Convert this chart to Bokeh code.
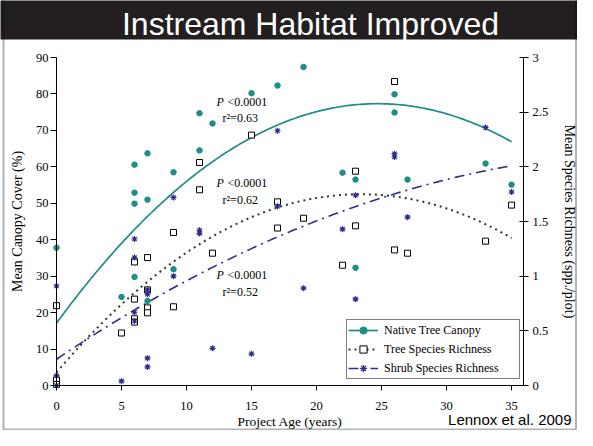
import numpy as np
from bokeh.plotting import figure
from bokeh.models import (Range1d, LinearAxis, FixedTicker, CustomJSTickFormatter,
                          Label, BoxAnnotation, Legend, LegendItem)
from bokeh.embed import file_html
from bokeh.resources import INLINE

# ---------------- data ----------------
x_ticks = [0, 5, 10, 15, 20, 25, 30, 35]
left_ticks = [0, 10, 20, 30, 40, 50, 60, 70, 80, 90]
right_ticks = [0, 0.5, 1, 1.5, 2, 2.5, 3]

canopy_x = [0, 5, 6, 6, 6, 6, 7, 7, 7, 9, 9, 11, 11, 12, 15, 17, 19, 22, 23, 23, 26, 26, 27, 33, 35]
canopy_y = [37.8, 24.3, 60.6, 52.9, 49.9, 29.8, 63.7, 51.0, 23.2, 58.5, 31.9, 74.7, 64.5, 71.9,
            80.2, 82.3, 87.4, 58.4, 56.5, 32.3, 79.9, 74.9, 56.5, 60.9, 55.1]

tree_x = [0, 0, 0, 5, 6, 6, 6, 6, 7, 7, 7, 7, 9, 9, 11, 11, 12, 15, 17, 17, 19, 22, 23, 23, 26, 26, 27, 33, 35]
tree_y = [0.73, 0.05, 0.01, 0.48, 1.13, 0.79, 0.61, 0.58, 1.17, 0.875, 0.71, 0.665, 1.40, 0.72,
          2.04, 1.79, 1.21, 2.29, 1.68, 1.44, 1.53, 1.10, 1.96, 1.46, 2.78, 1.24, 1.21, 1.32, 1.65]

shrub_x = [0, 0, 0, 5, 6, 6, 6, 6, 7, 7, 7, 7, 9, 9, 11, 11, 12, 15, 17, 17, 19, 22, 23, 23, 26, 26, 27, 33, 35]
shrub_y = [0.91, 0.09, 0.0, 0.04, 1.34, 1.17, 0.67, 0.59, 0.875, 0.835, 0.25, 0.17, 1.72, 1.00,
           1.42, 1.39, 0.34, 0.29, 2.33, 1.64, 0.89, 1.43, 1.74, 0.79, 2.12, 2.09, 1.54, 2.36, 1.77]

# quadratic trendline coefficients (a + b*x + c*x^2)
canopy_fit = [17.1, 4.876, -0.0987]
tree_fit = [0.12, 0.1393, -0.002977]
shrub_fit = [0.24, 0.0802, -0.000847]
fit_span = [0, 35]

p_texts = ["<0.0001", "<0.0001", "<0.0001"]
r2_texts = ["r\u00b2=0.63", "r\u00b2=0.62", "r\u00b2=0.52"]
labels = ["Native Tree Canopy", "Tree Species Richness", "Shrub Species Richness"]
title_text = "Instream Habitat Improved"
credit_text = "Lennox et al. 2009"

x_axis_end = 35.92
left_max = 90
right_max = 3

# ---------------- layout / styling ----------------
TEAL = "#1f8c86"
DARK = "#2c3a2c"
NAVY = "#2e2e8e"
BAR = "#231f20"
SERIF = "Liberation Serif"
SANS = "Liberation Sans"
W, H = 577, 430
# frame of the axes in canvas pixels (left, right, top, bottom)
FL, FR, FT, FB = 56, 523, 57, 385
xs = (FR - FL) / x_axis_end          # px per year
ysl = (FB - FT) / left_max           # px per % cover
ysr = (FB - FT) / right_max          # px per species

p = figure(width=W, height=H, output_backend="svg", toolbar_location=None,
           x_range=Range1d(-FL / xs, (W - FL) / xs),
           y_range=Range1d(-(H - FB) / ysl, FB / ysl),
           min_border=0, outline_line_color=None,
           background_fill_color="white", border_fill_color="white")
p.extra_y_ranges = {"rich": Range1d(-(H - FB) / ysr, FB / ysr)}
p.xgrid.visible = False
p.ygrid.visible = False

def style_axis(ax):
    ax.axis_line_color = "black"
    ax.major_tick_line_color = "black"
    ax.minor_tick_line_color = None
    ax.major_label_text_font = SERIF
    ax.major_label_text_font_size = "12.5px"
    ax.major_label_text_color = "black"
    ax.axis_label_text_font = SERIF
    ax.axis_label_text_font_style = "normal"
    ax.axis_label_text_font_size = "14px"
    ax.axis_label_text_color = "black"

xa = p.xaxis[0]
style_axis(xa)
xa.fixed_location = 0
xa.bounds = (0, x_axis_end)
xa.ticker = FixedTicker(ticks=x_ticks)
xa.major_tick_out = 5
xa.major_tick_in = 0
xa.major_label_standoff = 11
xa.axis_label = "Project Age (years)"
xa.axis_label_standoff = 1
xa.axis_label_text_font_size = "13.5px"

ya = p.yaxis[0]
style_axis(ya)
ya.fixed_location = 0
ya.bounds = (0, left_max)
ya.ticker = FixedTicker(ticks=left_ticks)
ya.major_tick_out = 6
ya.major_tick_in = 0
ya.major_label_standoff = 2
ya.axis_label = "Mean Canopy Cover (%)"
ya.axis_label_standoff = 8

ra = LinearAxis(y_range_name="rich", fixed_location=x_axis_end, bounds=(0, right_max),
                ticker=FixedTicker(ticks=right_ticks),
                formatter=CustomJSTickFormatter(code="return tick.toString()"))
style_axis(ra)
ra.major_tick_out = 5
ra.major_tick_in = 4
ra.major_label_standoff = 4
ra.axis_label = "Mean Species Richness (spp./plot)"
ra.axis_label_standoff = 11
p.add_layout(ra, "right")

fx = np.linspace(fit_span[0], fit_span[1], 200)
def quad(c):
    return c[0] + c[1] * fx + c[2] * fx ** 2

l1 = p.line(fx, quad(canopy_fit), line_color=TEAL, line_width=1.7)
l2 = p.line(fx, quad(tree_fit), line_color=DARK, line_width=2, line_dash="2 4", y_range_name="rich")
l3 = p.line(fx, quad(shrub_fit), line_color=NAVY, line_width=1.6, line_dash="10 5 2 5", y_range_name="rich")

s2 = p.scatter(tree_x, tree_y, marker="square", size=6, fill_color="white", line_color="black",
               line_width=1, y_range_name="rich")
s3 = p.scatter(shrub_x, shrub_y, marker="asterisk", size=6, line_color=NAVY, line_width=1.2,
               y_range_name="rich")
s1 = p.scatter(canopy_x, canopy_y, marker="circle", size=5.5, fill_color=TEAL, line_color=TEAL)

legend = Legend(items=[LegendItem(label=labels[0], renderers=[l1, s1]),
                       LegendItem(label=labels[1], renderers=[l2, s2]),
                       LegendItem(label=labels[2], renderers=[l3, s3])],
                location=(346, H - 379), padding=1, spacing=1, margin=0,
                glyph_width=30, glyph_height=18, label_height=18, label_standoff=6,
                label_width=134, border_line_color="black", border_line_width=1,
                background_fill_color="white", background_fill_alpha=1,
                label_text_font=SERIF, label_text_font_size="12px", label_text_color="black")
p.add_layout(legend)

# regression annotations (data coordinates)
p_rows = [77.9, 55.5, 30.2]
r_rows = [73.4, 51.0, 25.6]
for yp, yr, pt, rt in zip(p_rows, r_rows, p_texts, r2_texts):
    p.add_layout(Label(x=12.31, y=yp, text="P", text_font=SERIF, text_font_style="italic",
                       text_font_size="12px", text_baseline="middle", text_color="black"))
    p.add_layout(Label(x=13.15, y=yp, text=pt, text_font=SERIF,
                       text_font_size="12px", text_baseline="middle", text_color="black"))
    p.add_layout(Label(x=12.77, y=yr, text=rt, text_font=SERIF,
                       text_font_size="12px", text_baseline="middle", text_color="black"))

# slide decoration: black title bar, thin border, credit line
def X(px):
    return (px - FL) / xs
def Y(py):
    return (FB - py) / ysl

p.add_layout(BoxAnnotation(left=X(-5), right=X(W + 5), top=Y(-5), bottom=Y(39),
                           fill_color=BAR, fill_alpha=1, line_color=None))
p.add_layout(BoxAnnotation(left=X(3), right=X(W - 1.5), top=Y(-5), bottom=Y(H - 1),
                           fill_alpha=0, line_color="black", line_width=2))
p.add_layout(Label(x=X(310), y=Y(23), text=title_text, text_font=SANS, text_font_size="32px",
                   text_color="white", text_align="center", text_baseline="middle"))
p.add_layout(Label(x=X(571), y=Y(419), text=credit_text, text_font=SANS, text_font_size="15px",
                   text_color="black", text_align="right", text_baseline="middle"))

open("out.html", "w").write(file_html(p, INLINE))
